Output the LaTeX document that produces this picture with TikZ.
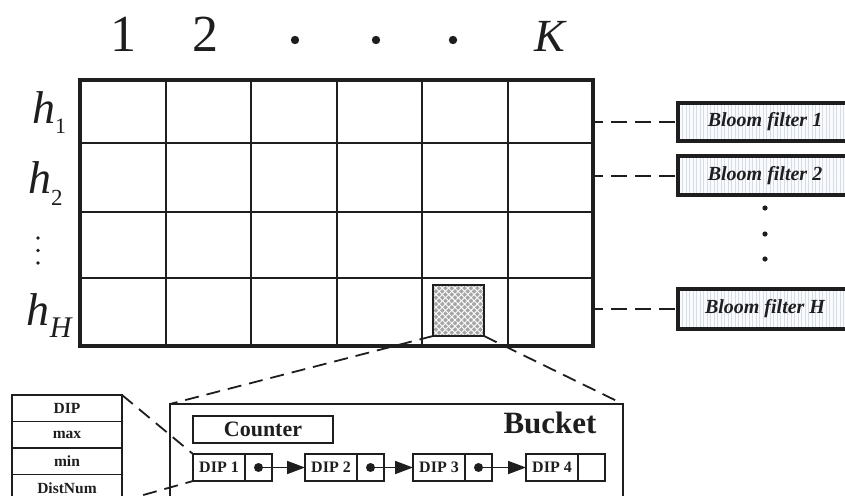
\documentclass[tikz,border=0pt]{standalone}
\usepackage{fontspec}
\setmainfont{Liberation Serif}
\usetikzlibrary{patterns.meta,arrows.meta}
\definecolor{ink}{RGB}{30,30,30}
\definecolor{stripe}{RGB}{214,220,234}
\definecolor{paper}{RGB}{250,251,253}

\tikzset{
  every node/.style={inner sep=0pt, outer sep=0pt, text=ink},
  gridframe/.style={draw=ink, line width=4.5pt, minimum width=513pt, minimum height=266pt},
  gridline/.style={draw=ink, line width=2pt},
  meshbox/.style={draw=ink, line width=2.5pt, minimum width=51pt, minimum height=51pt,
    preaction={fill=gray!70},
    preaction={pattern={Lines[angle=45,distance=4.5pt,line width=.9pt]}, pattern color=white},
    pattern={Lines[angle=-45,distance=4.5pt,line width=.9pt]}, pattern color=white},
  zoomline/.style={draw=ink, line width=1.8pt, dash pattern=on 14pt off 8pt},
  linkline/.style={draw=ink, line width=2pt, dash pattern=on 16pt off 8pt, dash phase=6pt},
  bloombox/.style={draw=ink, line width=3.5pt, minimum width=174pt, minimum height=38pt, anchor=west,
    preaction={fill=paper},
    pattern={Lines[angle=90,distance=3.5pt,line width=.6pt]}, pattern color=stripe,
    font=\bfseries\itshape\fontsize{20}{22}\selectfont},
  bucketbox/.style={draw=ink, line width=2pt, minimum width=453pt, minimum height=130pt, anchor=north west},
  counterbox/.style={draw=ink, line width=2pt, minimum width=140pt, minimum height=27pt, anchor=north west,
    font=\bfseries\fontsize{22}{24}\selectfont},
  dipcell/.style={draw=ink, line width=1.6pt, minimum width=52pt, minimum height=27pt, anchor=north west,
    font=\bfseries\fontsize{16}{18}\selectfont},
  ptrcell/.style={draw=ink, line width=1.6pt, minimum width=27pt, minimum height=27pt, anchor=north west},
  fieldcell/.style={draw=ink, line width=1.8pt, minimum width=110pt, minimum height=26.5pt, anchor=north west,
    font=\bfseries\fontsize{15.5}{17}\selectfont},
  linkarrow/.style={draw=ink, line width=1.8pt, -{Triangle[length=18pt,width=13pt]}},
  collabel/.style={anchor=base, font=\fontsize{52}{56}\selectfont},
  rowlabel/.style={anchor=base west, font=\fontsize{46}{50}\selectfont\itshape},
}

\begin{document}
\begin{tikzpicture}[x=1pt, y=-1pt]
\useasboundingbox (0,0) rectangle (845,495);
\clip (0,0) rectangle (845,495);

% column indices
\node[collabel] (c1) at (123,52) {1};
\node[collabel] (c2) at (205,52) {2};
\node[collabel, font=\fontsize{46}{50}\selectfont\itshape] (cK) at (550,52) {K};
\foreach \x in {295,376,453} \fill[ink] (\x,40) circle (4.2);

% row (hash function) labels
\node[rowlabel] (h1) at (32,123) {h\raisebox{-10pt}{\fontsize{22}{24}\selectfont\upshape 1}};
\node[rowlabel] (h2) at (28,193) {h\raisebox{-12pt}{\fontsize{23}{25}\selectfont\upshape 2}};
\node[rowlabel] (hH) at (27,325) {h\raisebox{-12pt}{\fontsize{30}{32}\selectfont H}};
\foreach \y in {238,250.5,263} \fill[ink] (38,\y) circle (1.8);

% counter matrix
\foreach \x in {165.5,251,336.5,422,507.5} \draw[gridline] (\x,80) -- (\x,346);
\foreach \y in {143,212,278} \draw[gridline] (80,\y) -- (593,\y);
\node[gridframe] (grid) at (336.5,213) {};

% highlighted bucket
\node[meshbox] (cell) at (458.5,310.5) {};

% Bloom filters, one per row
\node[bloombox, minimum height=38pt] (bf1) at (678,122) {Bloom filter 1};
\node[bloombox, minimum height=39pt] (bf2) at (678,175.5) {Bloom filter 2};
\node[bloombox, minimum height=40pt] (bfH) at (678,309) {Bloom filter H};
\foreach \y in {208,234,259} \fill[ink] (765,\y) circle (2.6);
\foreach \b in {bf1,bf2,bfH} \draw[linkline] (grid.east |- \b.west) -- (\b.west);

% bucket detail
\node[bucketbox] (bucket) at (170,404) {};
\draw[zoomline] (cell.south west) -- (bucket.north west);
\draw[zoomline] (cell.south east) -- (bucket.north east);
\node[anchor=base, font=\bfseries\fontsize{31}{33}\selectfont] (btitle) at (550,433) {Bucket};
\node[counterbox] (counter) at (193,416) {Counter};

% linked list of DIP entries
\node[dipcell] (d1) at (193,454) {DIP 1};
\node[ptrcell] (p1) at (245,454) {};
\node[dipcell] (d2) at (305,454) {DIP 2};
\node[ptrcell] (p2) at (357,454) {};
\node[dipcell] (d3) at (413,454) {DIP 3};
\node[ptrcell] (p3) at (465,454) {};
\node[dipcell] (d4) at (526,454) {DIP 4};
\node[ptrcell] (p4) at (578,454) {};
\foreach \p/\d in {p1/d2,p2/d3,p3/d4} {
  \fill[ink] (\p.center) circle (4.5);
  \draw[linkarrow] (\p.center) -- (\d.west);
}

% entry record fields
\node[fieldcell] (fDIP) at (12,395) {DIP};
\node[fieldcell] (fmax) at (12,421.5) {max};
\node[fieldcell] (fmin) at (12,448) {min};
\node[fieldcell] (fdist) at (12,474.5) {DistNum};
\draw[zoomline] (fDIP.north east) -- (d1.north west);
\draw[zoomline] (fdist.south east) -- (d1.south west);
\end{tikzpicture}
\end{document}
